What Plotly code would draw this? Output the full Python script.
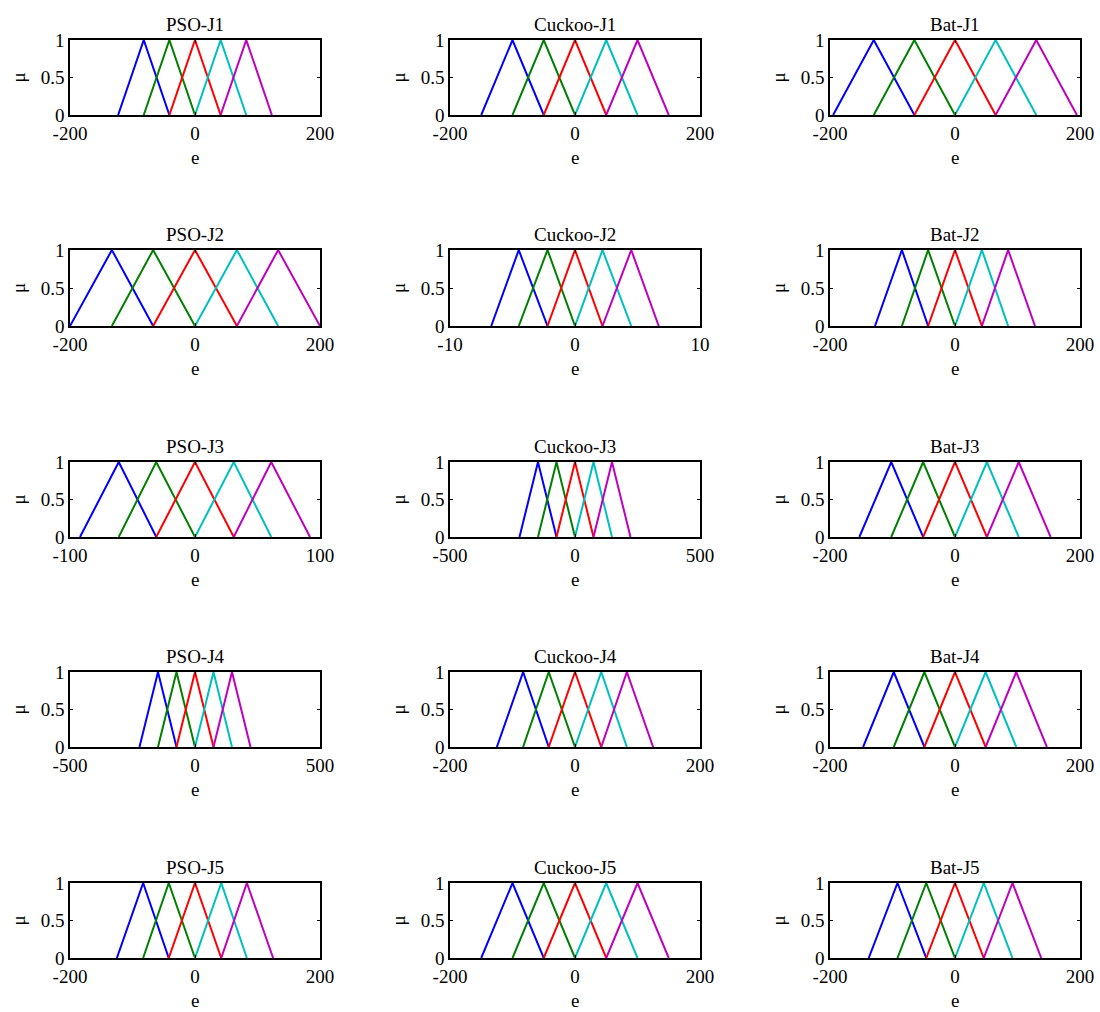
import plotly.graph_objects as go

W, H = 1100, 1012

titles = [
    ["PSO-J1", "Cuckoo-J1", "Bat-J1"],
    ["PSO-J2", "Cuckoo-J2", "Bat-J2"],
    ["PSO-J3", "Cuckoo-J3", "Bat-J3"],
    ["PSO-J4", "Cuckoo-J4", "Bat-J4"],
    ["PSO-J5", "Cuckoo-J5", "Bat-J5"],
]

# x limits of each panel
xlims = [
    [200, 200, 200],
    [200, 10, 200],
    [100, 500, 200],
    [500, 200, 200],
    [200, 200, 200],
]

# breakpoints of the five triangular MFs (foot, peaks..., foot)
bps = [
    [[-123, -82, -41, 0, 41, 82, 123],
     [-150, -100, -50, 0, 50, 100, 150],
     [-195, -130, -65, 0, 65, 130, 195]],
    [[-200, -133, -67, 0, 67, 133, 200],
     [-6.7, -4.5, -2.2, 0, 2.2, 4.5, 6.7],
     [-128, -85, -43, 0, 43, 85, 128]],
    [[-92, -61, -31, 0, 31, 61, 92],
     [-222, -148, -74, 0, 74, 148, 222],
     [-153, -102, -51, 0, 51, 102, 153]],
    [[-222, -148, -74, 0, 74, 148, 222],
     [-125, -83, -42, 0, 42, 83, 125],
     [-147, -98, -49, 0, 49, 98, 147]],
    [[-125, -83, -42, 0, 42, 83, 125],
     [-150, -100, -50, 0, 50, 100, 150],
     [-138, -92, -46, 0, 46, 92, 138]],
]

mf_colors = ["#0000ff", "#008000", "#ff0000", "#00bfbf", "#bf00bf"]

# panel boxes in pixels
col_px = [(70, 320), (450, 700), (830, 1080)]
row_px = [(40, 115), (250, 326), (462, 537), (672, 747), (883, 958)]

font = "Liberation Serif"
fs = 19

fig = go.Figure()
annotations = []
k = 0
for r in range(5):
    for c in range(3):
        k += 1
        xa = "x" if k == 1 else f"x{k}"
        ya = "y" if k == 1 else f"y{k}"
        bp = bps[r][c]
        for i in range(5):
            fig.add_trace(go.Scatter(
                x=bp[i:i + 3], y=[0, 1, 0], mode="lines",
                line=dict(color=mf_colors[i], width=2),
                xaxis=xa, yaxis=ya, showlegend=False, hoverinfo="skip",
            ))
        x0, x1 = col_px[c]
        y0, y1 = row_px[r]
        lim = xlims[r][c]
        axis_style = dict(
            showgrid=False, zeroline=False, showline=True, linecolor="black",
            linewidth=1.5, mirror="ticks", ticks="inside", ticklen=3,
            tickcolor="black", automargin=False,
            tickfont=dict(family=font, size=fs, color="black"),
        )
        fig.layout[f"xaxis{k if k > 1 else ''}"] = dict(
            domain=[x0 / W, x1 / W], range=[-lim, lim], anchor=ya,
            tickvals=[-lim, 0, lim], ticktext=[f"-{lim}", "0", f"{lim}"],
            **axis_style,
        )
        fig.layout[f"yaxis{k if k > 1 else ''}"] = dict(
            domain=[1 - y1 / H, 1 - y0 / H], range=[0, 1], anchor=xa,
            tickvals=[0, 0.5, 1], ticktext=["0", "0.5", "1"], **axis_style,
        )
        xc = (x0 + x1) / 2 / W
        annotations.append(dict(
            text=titles[r][c], x=xc, y=1 - (y0 - 3) / H, xref="paper", yref="paper",
            xanchor="center", yanchor="bottom", showarrow=False,
            font=dict(family=font, size=fs, color="black"),
        ))
        annotations.append(dict(
            text="e", x=xc, y=1 - (y1 + 42) / H, xref="paper", yref="paper",
            xanchor="center", yanchor="middle", showarrow=False,
            font=dict(family=font, size=fs, color="black"),
        ))
        annotations.append(dict(
            text="μ", x=(x0 - 52) / W, y=1 - (y0 + y1) / 2 / H, xref="paper", yref="paper",
            xanchor="center", yanchor="middle", showarrow=False, textangle=-90,
            font=dict(family=font, size=fs, color="black"),
        ))

fig.update_layout(
    width=W, height=H, margin=dict(l=0, r=0, t=0, b=0),
    plot_bgcolor="white", paper_bgcolor="white",
    annotations=annotations,
)

# drop the default page margin so the figure fills the window exactly
fig.write_html(
    "out.html",
    config={"displayModeBar": False},
    post_script="document.body.style.margin='0';document.body.style.overflow='hidden';",
)
